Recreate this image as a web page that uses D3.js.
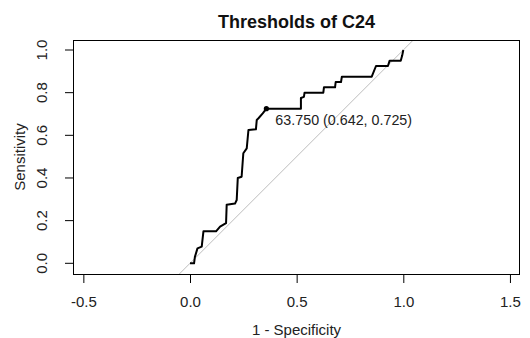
<!DOCTYPE html>
<html>
<head>
<meta charset="utf-8">
<script src="https://cdn.jsdelivr.net/npm/d3@7"></script>
<style>
  html, body { margin: 0; padding: 0; background: #fff; }
  svg { display: block; font-family: "Liberation Sans", Arial, sans-serif; }
</style>
</head>
<body>
<svg id="chart" width="530" height="338"></svg>
<script>
// ---- data ----
const title = "Thresholds of C24";
const xLabel = "1 - Specificity";
const yLabel = "Sensitivity";
const xTicks = [-0.5, 0.0, 0.5, 1.0, 1.5];
const yTicks = [0.0, 0.2, 0.4, 0.6, 0.8, 1.0];
// ROC curve: 1 - specificity
const fpr = [0, 0.019, 0.023, 0.035, 0.055, 0.063, 0.122, 0.141, 0.169, 0.172, 0.211, 0.219, 0.224, 0.242, 0.25, 0.266, 0.274, 0.309, 0.313, 0.321, 0.341, 0.358,
             0.52, 0.52, 0.534, 0.537, 0.625, 0.628, 0.68, 0.683, 0.708, 0.712, 0.852, 0.872, 0.928, 0.936, 0.988, 0.995, 1.0];
// ROC curve: sensitivity
const tpr = [0, 0, 0.03, 0.07, 0.078, 0.15, 0.15, 0.172, 0.188, 0.275, 0.28, 0.297, 0.4, 0.406, 0.516, 0.539, 0.625, 0.628, 0.672, 0.68, 0.703, 0.725,
             0.725, 0.775, 0.78, 0.80, 0.80, 0.825, 0.825, 0.85, 0.85, 0.875, 0.875, 0.925, 0.925, 0.95, 0.95, 0.975, 1.0];
const thresholdValue = 63.750;
const thresholdSpec = 0.642;
const thresholdSens = 0.725;

// ---- layout ----
const box = { left: 73, right: 520, top: 40, bottom: 274 };
const svg = d3.select("#chart");
const fmt = d => d.toFixed(1);   // R style, hyphen-minus

const x = d3.scaleLinear()
  .domain([(box.left - 190) / 213.3, (box.right - 190) / 213.3])
  .range([box.left, box.right]);
const y = d3.scaleLinear()
  .domain([-(box.bottom - 263.3) / 213.3, 1 + (50 - box.top) / 213.3])
  .range([box.bottom, box.top]);

svg.append("defs").append("clipPath").attr("id", "clip")
  .append("rect")
  .attr("x", box.left).attr("y", box.top)
  .attr("width", box.right - box.left).attr("height", box.bottom - box.top);

// diagonal (identity line)
const diag = [-1, 2];
svg.append("line")
  .attr("clip-path", "url(#clip)")
  .attr("x1", x(diag[0])).attr("y1", y(diag[0]))
  .attr("x2", x(diag[1])).attr("y2", y(diag[1]))
  .attr("stroke", "#bdbdbd").attr("stroke-width", 1);

// ROC curve
const pts = fpr.map((f, i) => [f, tpr[i]]);
svg.append("path")
  .datum(pts)
  .attr("clip-path", "url(#clip)")
  .attr("fill", "none")
  .attr("stroke", "#000")
  .attr("stroke-width", 2)
  .attr("stroke-linejoin", "round")
  .attr("d", d3.line().x(d => x(d[0])).y(d => y(d[1])));

// threshold point and label
const px = x(1 - thresholdSpec), py = y(thresholdSens);
svg.append("circle").attr("cx", px).attr("cy", py).attr("r", 2.6).attr("fill", "#000");
svg.append("text")
  .attr("x", px + 9).attr("y", py + 16.5)
  .attr("font-size", 14.3)
  .attr("fill", "#222")
  .text(`${thresholdValue.toFixed(3)} (${thresholdSpec.toFixed(3)}, ${thresholdSens.toFixed(3)})`);

// box
svg.append("rect")
  .attr("x", box.left + 0.5).attr("y", box.top + 0.5)
  .attr("width", box.right - box.left - 1).attr("height", box.bottom - box.top)
  .attr("fill", "none").attr("stroke", "#000").attr("stroke-width", 1);

// x axis
const xAxis = d3.axisBottom(x).tickValues(xTicks).tickFormat(fmt).tickSizeOuter(0).tickSize(9).tickPadding(13);
const gx = svg.append("g").attr("transform", `translate(0,${box.bottom})`).call(xAxis);
gx.select(".domain").remove();
gx.selectAll("text").attr("font-size", 15).attr("font-family", "Liberation Sans, Arial, sans-serif").attr("fill", "#222");
gx.selectAll("line").attr("stroke", "#000");

// y axis
const yAxis = d3.axisLeft(y).tickValues(yTicks).tickFormat(fmt).tickSizeOuter(0).tickSize(8).tickPadding(0);
const gy = svg.append("g").attr("transform", `translate(${box.left},0)`).call(yAxis);
gy.select(".domain").remove();
gy.selectAll("line").attr("stroke", "#000");
gy.selectAll(".tick").attr("transform", "translate(0,0)");
gy.selectAll(".tick line").attr("y1", d => y(d)).attr("y2", d => y(d));
gy.selectAll("text")
  .attr("font-size", 15).attr("font-family", "Liberation Sans, Arial, sans-serif").attr("fill", "#222")
  .attr("x", null).attr("dy", null)
  .attr("text-anchor", "middle")
  .attr("transform", d => `translate(${42 - box.left},${y(d)}) rotate(-90)`)
  .attr("y", 5);

// titles
svg.append("text")
  .attr("x", (box.left + box.right) / 2).attr("y", 28)
  .attr("text-anchor", "middle")
  .attr("font-size", 18).attr("font-weight", "bold").attr("fill", "#111")
  .text(title);
svg.append("text")
  .attr("x", (box.left + box.right) / 2).attr("y", 335)
  .attr("text-anchor", "middle")
  .attr("font-size", 15).attr("fill", "#222")
  .text(xLabel);
svg.append("text")
  .attr("transform", `translate(25,${(box.top + box.bottom) / 2}) rotate(-90)`)
  .attr("text-anchor", "middle")
  .attr("font-size", 15).attr("fill", "#222")
  .text(yLabel);
</script>
</body>
</html>
